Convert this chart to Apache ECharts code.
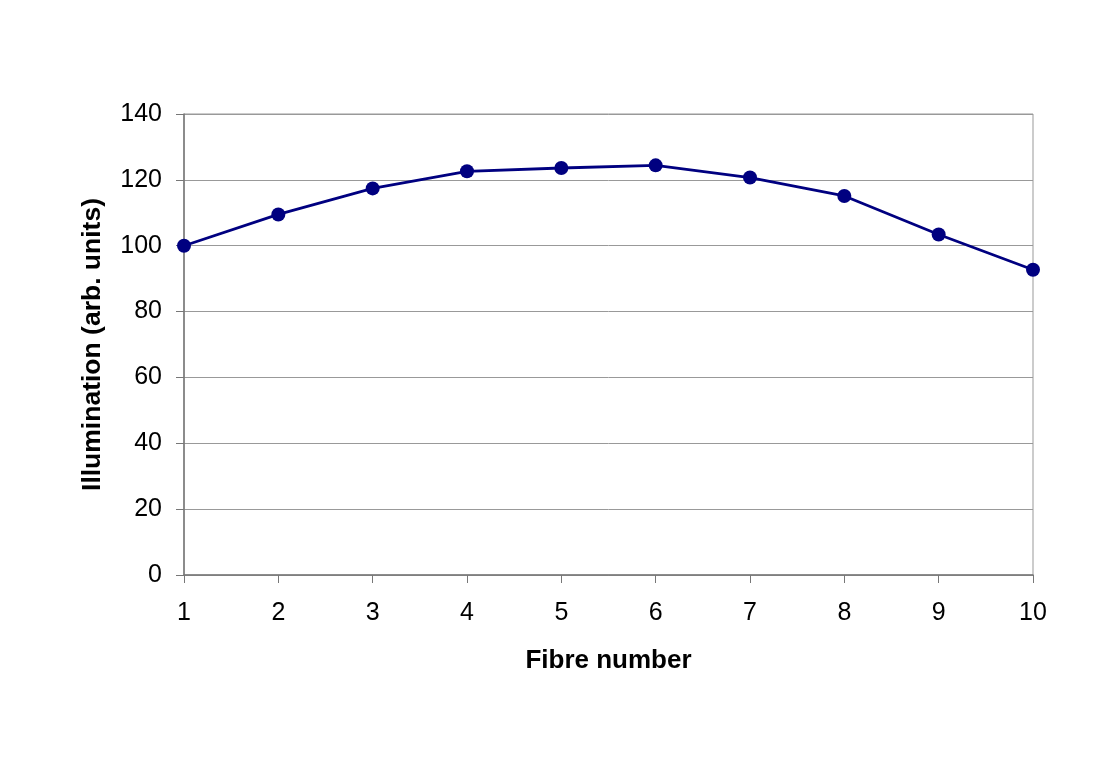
<!DOCTYPE html>
<html>
<head>
<meta charset="utf-8">
<script src="https://cdn.jsdelivr.net/npm/echarts@6/dist/echarts.min.js"></script>
<style>
  html, body { margin: 0; padding: 0; background: #fff; }
  #chart { width: 1113px; height: 770px; }
</style>
</head>
<body>
<div id="chart"></div>
<script>
'use strict';
// data
var fibres = ['1', '2', '3', '4', '5', '6', '7', '8', '9', '10'];
var illumination = [100.0, 109.5, 117.4, 122.6, 123.6, 124.4, 120.7, 115.1, 103.4, 92.7];

var chart = echarts.init(document.getElementById('chart'));

var font = 'Liberation Sans, Arial, sans-serif';

chart.setOption({
  animation: false,
  backgroundColor: '#fff',
  grid: { left: 184, right: 80, top: 114, bottom: 195, show: true, borderColor: '#999', borderWidth: 1 },
  xAxis: {
    type: 'category',
    data: fibres,
    boundaryGap: false,
    name: 'Fibre number',
    nameLocation: 'middle',
    nameGap: 73,
    nameTextStyle: { fontFamily: font, fontSize: 26, fontWeight: 'bold', color: '#000' },
    axisLine: { lineStyle: { color: '#777', width: 1.5 } },
    axisTick: { show: true, length: 8, inside: false, alignWithLabel: true, lineStyle: { color: '#777' } },
    axisLabel: { fontFamily: font, fontSize: 25, color: '#000', margin: 26 },
    splitLine: { show: false }
  },
  yAxis: {
    type: 'value',
    min: 0,
    max: 140,
    interval: 20,
    name: 'Illumination (arb. units)',
    nameLocation: 'middle',
    nameGap: 78,
    nameRotate: 90,
    nameTextStyle: { fontFamily: font, fontSize: 26.5, fontWeight: 'bold', color: '#000' },
    axisLine: { show: true, lineStyle: { color: '#777', width: 1.5 } },
    axisTick: { show: true, length: 8, lineStyle: { color: '#777' } },
    axisLabel: { fontFamily: font, fontSize: 25, color: '#000', margin: 22 },
    splitLine: { show: true, lineStyle: { color: '#999', width: 1 } }
  },
  series: [{
    type: 'line',
    data: illumination,
    symbol: 'circle',
    symbolSize: 14,
    itemStyle: { color: '#000080' },
    lineStyle: { color: '#000080', width: 2.8 }
  }]
});
</script>
</body>
</html>
